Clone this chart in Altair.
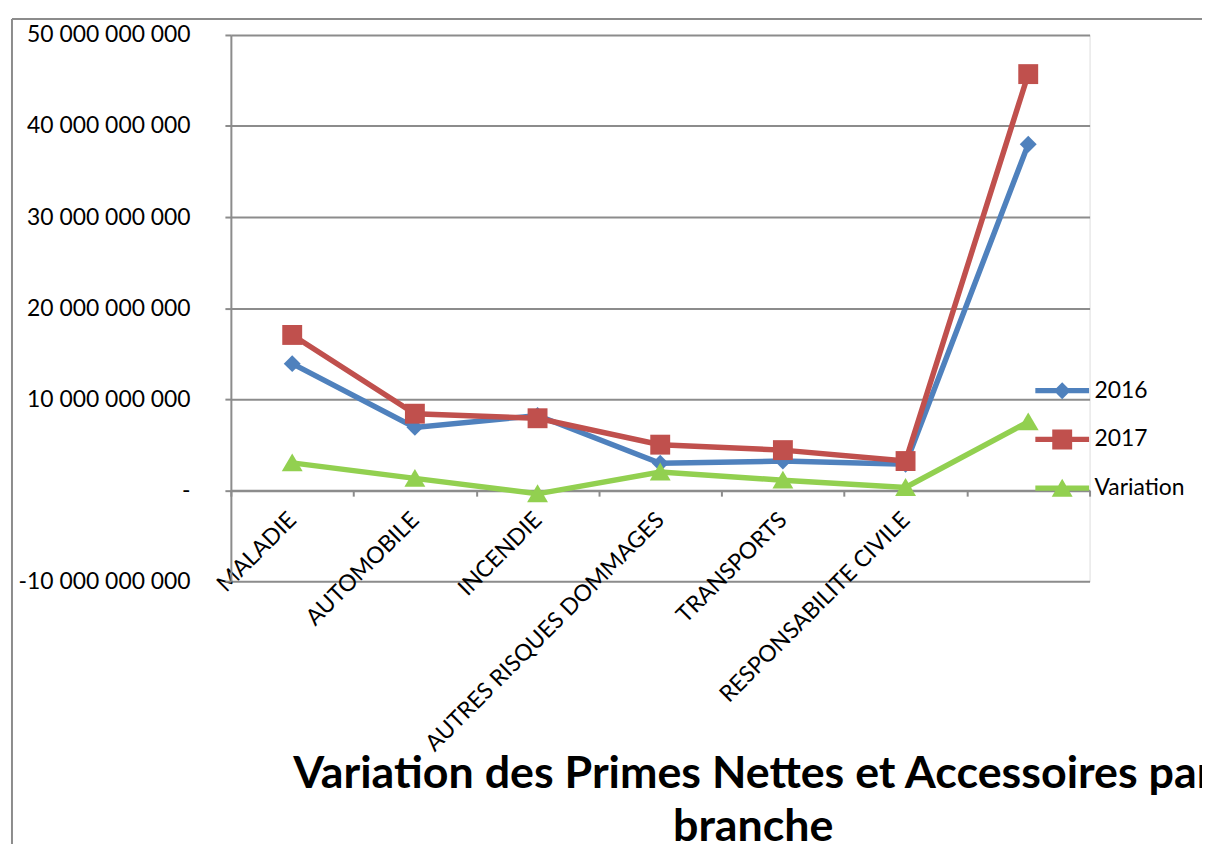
import altair as alt
import pandas as pd

categories = ["MALADIE", "AUTOMOBILE", "INCENDIE", "AUTRES RISQUES DOMMAGES",
              "TRANSPORTS", "RESPONSABILITE CIVILE", ""]
v2016 = [13.9e9, 6.9e9, 8.2e9, 2.95e9, 3.2e9, 2.85e9, 38.0e9]
v2017 = [17.05e9, 8.4e9, 7.9e9, 5.0e9, 4.4e9, 3.2e9, 45.7e9]
variation = [3.0e9, 1.3e9, -0.4e9, 2.0e9, 1.1e9, 0.3e9, 7.5e9]
series = ["2016", "2017", "Variation"]
colors = ["#4F81BD", "#C0504D", "#92D050"]
y_ticks = [-10e9, 0, 10e9, 20e9, 30e9, 40e9, 50e9]
title_lines = ["Variation des Primes Nettes et Accessoires par", "branche"]

rows = []
for name, vals in zip(series, [v2016, v2017, variation]):
    for c, v in zip(categories, vals):
        rows.append({"categorie": c, "serie": name, "valeur": v})
df = pd.DataFrame(rows)

W, H = 863, 549
GRID = "#8C8C8C"
FONT = "Lato"

marker_paths = [
    "M0,-0.85L0.85,0L0,0.85L-0.85,0Z",
    "M-1,-1H1V1H-1Z",
    "M0,-0.95L1.05,0.85H-1.05Z",
]
line_bar = "M-2.7,-0.27H2.7V0.27H-2.7Z"
legend_paths = [line_bar + p for p in marker_paths]

label_expr = (
    "datum.value == 0 ? '-\u00a0\u00a0\u00a0' : (datum.value < 0 ? '-' : '') + "
    "replace(replace(replace(format(abs(datum.value), ','), ',', ' '), ',', ' '), ',', ' ')"
)

x_enc = alt.X(
    "categorie:N",
    sort=categories,
    scale=alt.Scale(type="band", domain=categories, paddingInner=0, paddingOuter=0),
    axis=alt.Axis(
        title=None, orient="bottom", offset=-(H * 10 / 60),
        domainColor=GRID, domainWidth=2, tickColor=GRID, tickWidth=2, tickSize=6,
        tickBand="extent", labelAngle=-45, labelAlign="right", labelBaseline="middle",
        labelPadding=20, labelFont=FONT, labelFontSize=23, labelColor="#000000",
        grid=False, labelOverlap=False, labelLimit=0,
    ),
)
y_enc = alt.Y(
    "valeur:Q",
    scale=alt.Scale(domain=[-10e9, 50e9], nice=False, zero=False),
    axis=alt.Axis(
        title=None, values=y_ticks, labelExpr=label_expr,
        domainColor=GRID, domainWidth=2, tickColor=GRID, tickWidth=2, tickSize=6,
        grid=True, gridColor=GRID, gridWidth=2, labelPadding=35, labelLimit=0,
        labelFont=FONT, labelFontSize=23, labelColor="#000000",
    ),
)
color_scale = alt.Scale(domain=series, range=colors)

legend = alt.Legend(
    title=None, orient="none", legendX=824, legendY=346, padding=0,
    symbolSize=400, symbolStrokeWidth=0, labelOffset=21, rowPadding=25,
    labelFont=FONT, labelFontSize=23, labelColor="#000000",
)

base = alt.Chart(df)
lines = base.mark_line(strokeWidth=5.5).encode(
    x=x_enc, y=y_enc,
    color=alt.Color("serie:N", scale=color_scale, legend=None),
    detail="serie:N",
)
points = base.mark_point(filled=True, opacity=1, size=400).encode(
    x=x_enc, y=y_enc,
    color=alt.Color("serie:N", scale=color_scale, legend=None),
    shape=alt.Shape("serie:N", scale=alt.Scale(domain=series, range=marker_paths), legend=None),
)
legend_layer = base.transform_filter("false").mark_point(filled=True, opacity=1, size=400).encode(
    x=x_enc, y=y_enc,
    color=alt.Color("serie:N", scale=color_scale, legend=legend),
    shape=alt.Shape("serie:N", scale=alt.Scale(domain=series, range=legend_paths), legend=legend),
)

one_row = alt.Data(values=[{"k": 1}])
frame_left = alt.Chart(one_row).mark_rule(color=GRID, strokeWidth=2).encode(
    x=alt.value(-220), y=alt.value(-16), y2=alt.value(900)
)
frame_top = alt.Chart(one_row).mark_rule(color=GRID, strokeWidth=2).encode(
    x=alt.value(-220), x2=alt.value(1100), y=alt.value(-16)
)
title_text = alt.Chart(one_row).mark_text(
    font=FONT, fontSize=45, fontWeight="bold", color="#000000",
    align="center", baseline="alphabetic", lineHeight=53,
).encode(
    x=alt.value(525), y=alt.value(757), text=alt.value(title_lines)
)

chart = alt.layer(frame_left, frame_top, lines, points, legend_layer, title_text).resolve_scale(
    color="independent", shape="independent"
).properties(
    width=W, height=H,
    autosize=alt.AutoSizeParams(type="none"),
    padding={"left": 224, "top": 25, "right": 1200 - 224 - W, "bottom": 836 - 25 - H},
).configure_view(stroke=None).configure(font=FONT)

chart.save("out.html", embed_options={"renderer": "svg", "actions": False})
